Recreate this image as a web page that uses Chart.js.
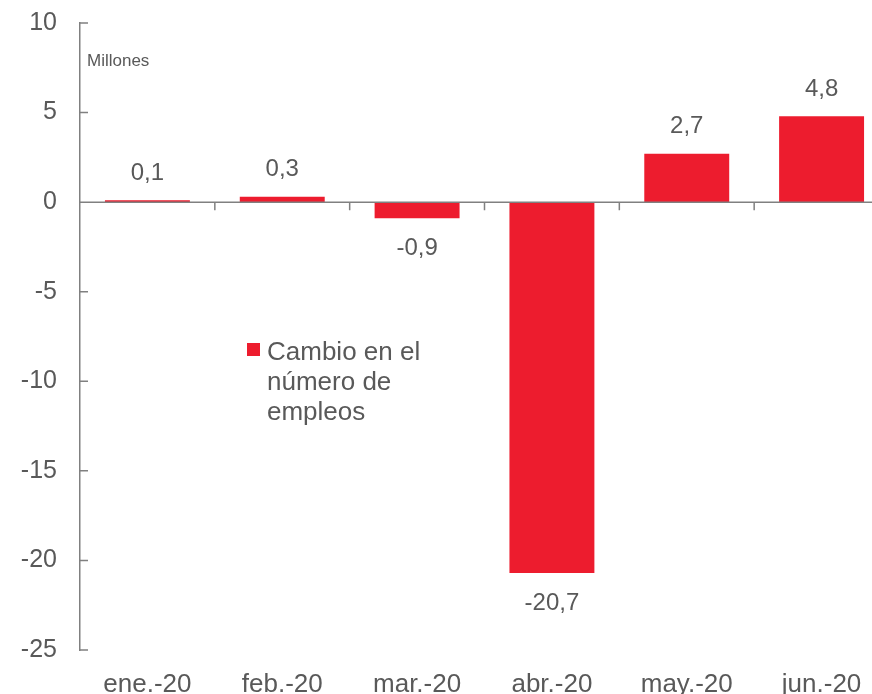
<!DOCTYPE html>
<html lang="es">
<head>
<meta charset="UTF-8">
<title>Cambio en el número de empleos</title>
<script src="https://cdn.jsdelivr.net/npm/chart.js"></script>
<style>
  html, body { margin: 0; padding: 0; background: #fff; overflow: hidden; }
  .wrap { position: relative; width: 900px; height: 694px; }
  .unit {
    position: absolute; left: 87px; top: 51px;
    font-family: 'Liberation Sans', Arial, sans-serif; font-size: 17px; color: #595959;
  }
  .legend {
    position: absolute; left: 247px; top: 336px; width: 190px;
    font-family: 'Liberation Sans', Arial, sans-serif; font-size: 26px; line-height: 30px; color: #595959;
  }
  .legend .box {
    position: absolute; left: 0; top: 7px; width: 13px; height: 13px; background: #ED1C2E;
  }
  .legend .txt { margin-left: 20px; }
</style>
</head>
<body>
<div class="wrap">
  <canvas id="empleos" width="900" height="694"></canvas>
  <div class="unit">Millones</div>
  <div class="legend"><span class="box"></span><div class="txt" id="legendText"></div></div>
</div>
<script>
const months = ['ene.-20', 'feb.-20', 'mar.-20', 'abr.-20', 'may.-20', 'jun.-20'];
const cambioEmpleos = [0.1, 0.3, -0.9, -20.7, 2.7, 4.8];
const seriesLabel = 'Cambio en el número de empleos';

const RED = '#ED1C2E';
const TEXT = '#595959';
const AXIS = '#808080';
const FONT = "'Liberation Sans', Arial, sans-serif";

document.getElementById('legendText').textContent = seriesLabel;

// zero line, small tick marks and value labels
const decorations = {
  id: 'decorations',
  afterDatasetsDraw(chart) {
    const ctx = chart.ctx;
    const area = chart.chartArea;
    const x = chart.scales.x;
    const y = chart.scales.y;
    const y0 = y.getPixelForValue(0);
    ctx.save();
    ctx.strokeStyle = AXIS;
    ctx.lineWidth = 1.5;
    ctx.beginPath();
    ctx.moveTo(area.left, y0);
    ctx.lineTo(area.right, y0);
    // category boundary ticks
    for (let i = 1; i <= months.length; i++) {
      const bx = (x.getPixelForValue(i - 1) + x.getPixelForValue(i)) / 2;
      const px = i === months.length ? area.right : bx;
      ctx.moveTo(px, y0);
      ctx.lineTo(px, y0 + 8);
    }
    // y ticks pointing inward
    y.ticks.forEach(t => {
      const py = y.getPixelForValue(t.value);
      ctx.moveTo(area.left, py);
      ctx.lineTo(area.left + 8, py);
    });
    ctx.stroke();

    ctx.fillStyle = TEXT;
    ctx.font = '24px ' + FONT;
    ctx.textAlign = 'center';
    ctx.textBaseline = 'middle';
    const meta = chart.getDatasetMeta(0);
    meta.data.forEach((bar, i) => {
      const v = cambioEmpleos[i];
      const txt = v.toFixed(1).replace('.', ',');
      const py = v >= 0 ? bar.y - 27 : bar.y + 30;
      ctx.fillText(txt, bar.x, py);
    });
    ctx.restore();
  }
};

new Chart(document.getElementById('empleos'), {
  type: 'bar',
  data: {
    labels: months,
    datasets: [{
      label: seriesLabel,
      data: cambioEmpleos,
      backgroundColor: RED,
      borderWidth: 0,
      barPercentage: 0.63,
      categoryPercentage: 1.0,
      xAxisID: 'x'
    }]
  },
  options: {
    responsive: false,
    animation: false,
    layout: { padding: { top: 23, right: 11, left: 0, bottom: 0 } },
    plugins: {
      legend: { display: false },
      tooltip: { enabled: false }
    },
    scales: {
      x: {
        type: 'category',
        position: 'bottom',
        offset: true,
        grid: { display: false },
        border: { display: false },
        ticks: {
          color: TEXT,
          font: { family: FONT, size: 26 },
          padding: 11,
          maxRotation: 0,
          autoSkip: false
        },
        afterFit(scale) { scale.height = 44; }
      },
      y: {
        min: -25,
        max: 10,
        ticks: {
          stepSize: 5,
          color: TEXT,
          font: { family: FONT, size: 25 },
          padding: 15,
          callback: v => String(v)
        },
        grid: { display: false },
        border: { display: true, color: AXIS, width: 1.5 },
        afterFit(scale) {
          scale.width = 80;
          scale.paddingTop = 0;
          scale.paddingBottom = 0;
        }
      }
    }
  },
  plugins: [decorations]
});
</script>
</body>
</html>
